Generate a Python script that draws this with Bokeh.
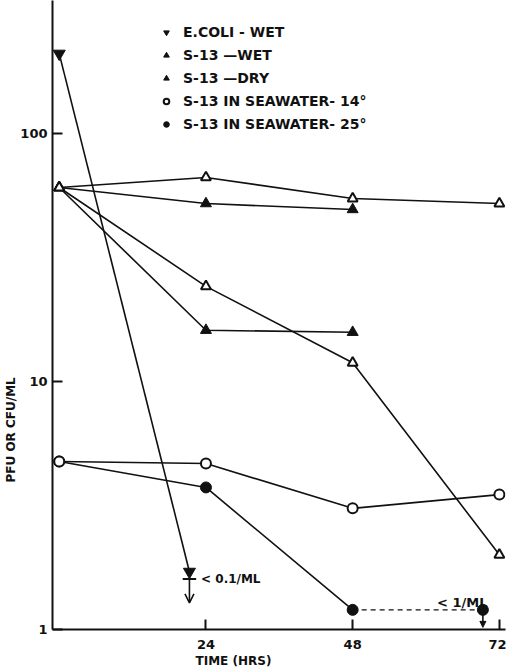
from bokeh.plotting import figure
from bokeh.models import (Range1d, FixedTicker, NumeralTickFormatter, Label, Arrow, Title,
                          OpenHead, NormalHead, Legend, LegendItem)
from bokeh.embed import file_html
from bokeh.resources import INLINE

# ---------------- data ----------------
hours = [0, 24, 48, 72]
hours_3 = [0, 24, 48]

ecoli_hours = [0, 21.3]
ecoli_wet = [210, 1.71]                 # second point is "< 0.1/ML"

s13_open_a = [60.6, 66.5, 54.7, 52.2]
s13_filled_a = [60.6, 52.2, 49.4]
s13_open_b = [60.6, 24.2, 11.9, 2.0]
s13_filled_b = [60.6, 16.1, 15.8]

sea14 = [4.76, 4.67, 3.08, 3.5]
sea25_hours = [0, 24, 48]
sea25 = [4.76, 3.74, 1.2]
sea25_limit_hours = [48, 69.3]
sea25_limit = [1.2, 1.2]                # "< 1/ML"

x_ticks = [24, 48, 72]
y_ticks = [1, 10, 100]

legend_labels = ["E.COLI - WET", "S-13 \u2014WET", "S-13 \u2014DRY",
                 "S-13 IN SEAWATER- 14\u00b0", "S-13 IN SEAWATER- 25\u00b0"]

INK = "#111111"
FONT = "DejaVu Sans"

p = figure(width=506, height=671, output_backend="svg", toolbar_location=None,
           y_axis_type="log", x_range=Range1d(-1.1, 73.0), y_range=Range1d(1, 344),
           min_border_left=52, min_border_right=1, min_border_top=0, min_border_bottom=42)
p.outline_line_color = None
p.grid.visible = False
p.background_fill_color = "white"
p.border_fill_color = "white"

for ax in (p.xaxis[0], p.yaxis[0]):
    ax.axis_line_color = INK
    ax.axis_line_width = 2
    ax.major_tick_line_color = INK
    ax.major_tick_line_width = 2
    ax.major_tick_in = 10
    ax.major_tick_out = 0
    ax.minor_tick_line_color = None
    ax.major_label_text_font = FONT
    ax.major_label_text_font_style = "bold"
    ax.major_label_text_color = INK
    ax.major_label_text_font_size = "13px"

p.xaxis.ticker = FixedTicker(ticks=x_ticks)
p.yaxis.ticker = FixedTicker(ticks=y_ticks)
p.yaxis.formatter = NumeralTickFormatter(format="0")
p.xaxis.major_label_standoff = 10
p.yaxis.major_label_standoff = 5

# axis titles as side titles (positioned along the axis like the original)
p.add_layout(Title(text="PFU OR CFU/ML", align="left", offset=147, standoff=0,
                   text_font=FONT, text_font_style="bold", text_font_size="12px",
                   text_color=INK), "left")
p.add_layout(Title(text="TIME (HRS)", align="left", offset=143, standoff=0,
                   text_font=FONT, text_font_style="bold", text_font_size="12px",
                   text_color=INK), "below")

LW = 1.6
# lines
p.line(ecoli_hours, ecoli_wet, line_color=INK, line_width=LW)
p.line(hours, s13_open_a, line_color=INK, line_width=LW)
p.line(hours_3, s13_filled_a, line_color=INK, line_width=LW)
p.line(hours, s13_open_b, line_color=INK, line_width=LW)
p.line(hours_3, s13_filled_b, line_color=INK, line_width=LW)
p.line(hours, sea14, line_color=INK, line_width=LW)
p.line(sea25_hours, sea25, line_color=INK, line_width=LW)
p.line(sea25_limit_hours, sea25_limit, line_color=INK, line_width=1.3, line_dash="5 4")

# markers
r_ecoli = p.scatter(ecoli_hours, ecoli_wet, marker="inverted_triangle", size=12,
                    fill_color=INK, line_color=INK)
r_fa = p.scatter(hours_3, s13_filled_a, marker="triangle", size=11, fill_color=INK, line_color=INK)
r_fb = p.scatter(hours_3, s13_filled_b, marker="triangle", size=11, fill_color=INK, line_color=INK)
r_oa = p.scatter(hours, s13_open_a, marker="triangle", size=10, fill_color="white",
                 line_color=INK, line_width=2)
r_ob = p.scatter(hours, s13_open_b, marker="triangle", size=10, fill_color="white",
                 line_color=INK, line_width=2)
r_s25 = p.scatter(sea25_hours + sea25_limit_hours[1:], sea25 + sea25_limit[1:], marker="circle",
                  size=11, fill_color=INK, line_color=INK)
r_s14 = p.scatter(hours, sea14, marker="circle", size=10, fill_color="white",
                  line_color=INK, line_width=2)

# E. coli "< 0.1/ML" mark and arrow
p.segment(x0=[ecoli_hours[1] - 1.1], y0=[1.6], x1=[ecoli_hours[1] + 1.1], y1=[1.6],
          line_color=INK, line_width=2)
p.add_layout(Arrow(end=OpenHead(size=9, line_width=1.6, line_color=INK),
                   x_start=ecoli_hours[1], y_start=1.6, x_end=ecoli_hours[1], y_end=1.28,
                   line_color=INK, line_width=1.6))
p.add_layout(Label(x=23.2, y=1.6, text="< 0.1/ML", text_font=FONT, text_font_style="bold",
                   text_font_size="12px", text_color=INK, text_baseline="middle"))

# seawater 25 "< 1/ML" arrow and text
p.add_layout(Arrow(end=NormalHead(size=6, fill_color=INK, line_color=INK),
                   x_start=sea25_limit_hours[1], y_start=1.15, x_end=sea25_limit_hours[1], y_end=1.02,
                   line_color=INK, line_width=1.6))
p.add_layout(Label(x=61.8, y=1.285, text="< 1/ML", text_font=FONT, text_font_style="bold",
                   text_font_size="13px", text_color=INK, text_baseline="alphabetic"))

legend = Legend(items=[LegendItem(label=legend_labels[0], renderers=[r_ecoli]),
                       LegendItem(label=legend_labels[1], renderers=[r_fa]),
                       LegendItem(label=legend_labels[2], renderers=[r_fb]),
                       LegendItem(label=legend_labels[3], renderers=[r_s14]),
                       LegendItem(label=legend_labels[4], renderers=[r_s25])],
                location=(107, 495), background_fill_alpha=0, border_line_alpha=0,
                padding=0, margin=0, spacing=3, label_height=20, glyph_height=20,
                glyph_width=14, label_standoff=10, label_text_font=FONT,
                label_text_font_style="bold", label_text_font_size="14px",
                label_text_color=INK)
p.add_layout(legend)

open("out.html", "w").write(file_html(p, INLINE))
